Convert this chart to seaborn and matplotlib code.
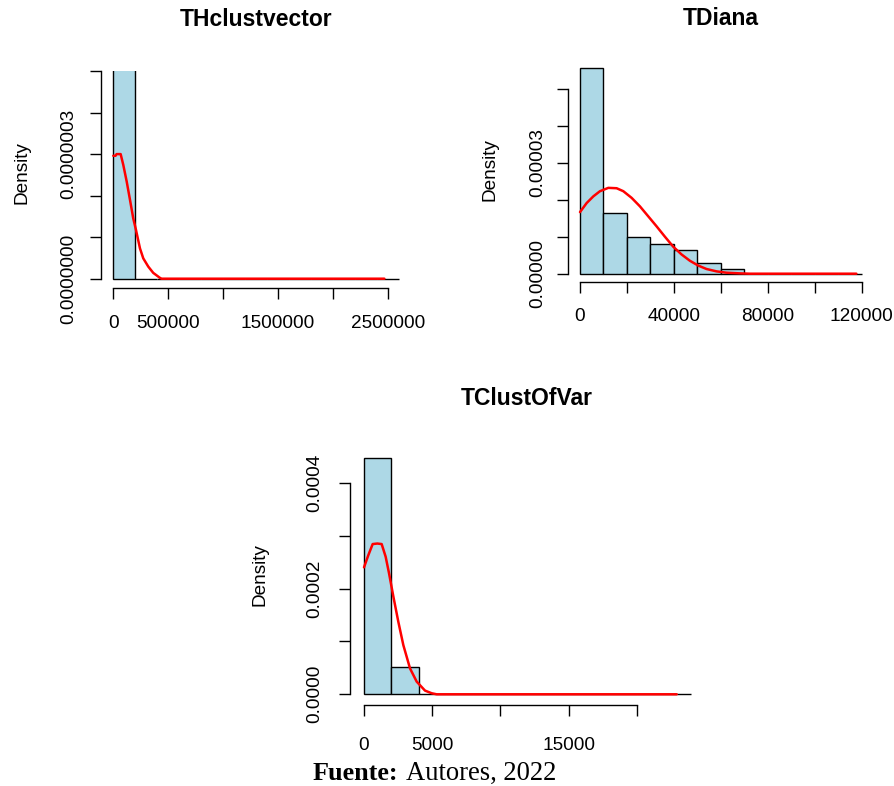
import numpy as np
import pandas as pd
import matplotlib
matplotlib.use("Agg")
import matplotlib.pyplot as plt
import seaborn as sns

W, H = 894, 786

# --- THclustvector ---
th_edges = [0, 200000, 400000, 600000, 800000, 1000000, 1200000, 1400000,
            1600000, 1800000, 2000000, 2200000, 2400000, 2600000]
th_dens = [5.0e-6, 0, 0, 0, 0, 0, 0, 0, 0, 0, 0, 0, 0]
th_cx = [0, 20000, 30000, 67000, 91000, 122000, 152000, 182000, 207000,
         243000, 273000, 319000, 364000, 425000, 440000, 2469700]
th_cy = [2.96e-7, 2.96e-7, 3.0e-7, 3.0e-7, 2.74e-7, 2.34e-7, 1.90e-7, 1.45e-7,
         1.17e-7, 0.73e-7, 0.49e-7, 0.29e-7, 0.14e-7, 0.02e-7, 0.0, 0.0]
th_xticks = [0, 500000, 1000000, 1500000, 2000000, 2500000]
th_xlabels = ["0", "500000", "", "1500000", "", "2500000"]
th_yticks = [0, 1e-7, 2e-7, 3e-7, 4e-7, 5e-7]
th_ylabels = ["0.0000000", "", "", "0.0000003", "", ""]

# --- TDiana ---
di_edges = [0, 10000, 20000, 30000, 40000, 50000, 60000, 70000, 80000,
            90000, 100000, 110000, 120000]
di_dens = [5.56e-5, 1.645e-5, 1.0e-5, 0.8e-5, 0.645e-5, 0.29e-5, 0.127e-5,
           0, 0, 0, 0, 0]
di_cx = [0, 2837, 5674, 8511, 12057, 15603, 18440, 21986, 25532, 29078,
         32624, 36170, 39716, 43262, 46809, 50355, 53901, 58156, 62411,
         68085, 72340, 117730]
di_cy = [1.665e-5, 1.91e-5, 2.09e-5, 2.23e-5, 2.32e-5, 2.31e-5, 2.23e-5,
         2.05e-5, 1.82e-5, 1.55e-5, 1.28e-5, 1.00e-5, 0.73e-5, 0.52e-5,
         0.35e-5, 0.22e-5, 0.127e-5, 0.063e-5, 0.027e-5, 0.009e-5, 0, 0]
di_xticks = [0, 20000, 40000, 60000, 80000, 100000, 120000]
di_xlabels = ["0", "", "40000", "", "80000", "", "120000"]
di_yticks = [0, 1e-5, 2e-5, 3e-5, 4e-5, 5e-5]
di_ylabels = ["0.00000", "", "", "0.00003", "", ""]

# --- TClustOfVar ---
cv_edges = [0, 2000, 4000, 6000, 8000, 10000, 12000, 14000, 16000, 18000,
            20000, 22000, 24000]
cv_dens = [4.46e-4, 0.51e-4, 0, 0, 0, 0, 0, 0, 0, 0, 0, 0]
cv_cx = [0, 318, 636, 978, 1296, 1589, 1834, 2152, 2518, 2885, 3374, 3863,
         4474, 4963, 5330, 22936]
cv_cy = [2.40e-4, 2.63e-4, 2.84e-4, 2.85e-4, 2.84e-4, 2.60e-4, 2.29e-4,
         1.85e-4, 1.37e-4, 0.93e-4, 0.49e-4, 0.24e-4, 0.07e-4, 0.02e-4, 0, 0]
cv_xticks = [0, 5000, 10000, 15000, 20000]
cv_xlabels = ["0", "5000", "", "15000", ""]
cv_yticks = [0, 1e-4, 2e-4, 3e-4, 4e-4]
cv_ylabels = ["0.0000", "", "0.0002", "", "0.0004"]

sns.set_style("ticks")
plt.rcParams["font.family"] = ["Liberation Sans", "DejaVu Sans"]
plt.rcParams["text.color"] = "black"
plt.rcParams["axes.labelcolor"] = "black"

fig = plt.figure(figsize=(W / 100, H / 100), dpi=100)
fig.patch.set_facecolor("white")

panels = [
    # pixel geometry: x0px, px per x unit, y0px, px per y unit, box (l, r, t, b)
    dict(title="THclustvector", edges=th_edges, dens=th_dens, cx=th_cx, cy=th_cy,
         xt=th_xticks, xl=th_xlabels, yt=th_yticks, yl=th_ylabels,
         x0=113.3, xs=274.4 / 2.5e6, y0=278.7, ys=41.53 / 1e-7,
         box=(101.0, 410.1, 71.0, 287.7), pad=(12.0, 9.1),
         tpos=(256, 26), dpos=(22, 173)),
    dict(title="TDiana", edges=di_edges, dens=di_dens, cx=di_cx, cy=di_cy,
         xt=di_xticks, xl=di_xlabels, yt=di_yticks, yl=di_ylabels,
         x0=580.0, xs=281.7 / 120000, y0=273.7, ys=37.0 / 1e-5,
         box=(568.3, 873.0, 66.0, 281.7), pad=(11.2, 8.2),
         tpos=(720.5, 25), dpos=(490, 170)),
    dict(title="TClustOfVar", edges=cv_edges, dens=cv_dens, cx=cv_cx, cy=cv_cy,
         xt=cv_xticks, xl=cv_xlabels, yt=cv_yticks, yl=cv_ylabels,
         x0=364.0, xs=272.7 / 20000, y0=694.3, ys=52.9 / 1e-4,
         box=(350.3, 704.3, 440.0, 705.0), pad=(14.8, 11.8),
         tpos=(527, 405), dpos=(260, 575)),
]

for p in panels:
    l, r, t, b = p["box"]
    ax = fig.add_axes([l / W, 1 - b / H, (r - l) / W, (b - t) / H])
    edges = [float(e) for e in p["edges"]]
    hist_df = pd.DataFrame({
        "x": [(a + c) / 2 for a, c in zip(edges[:-1], edges[1:])],
        "w": p["dens"],
    })
    sns.histplot(data=hist_df, x="x", weights="w", bins=edges, ax=ax,
                 color="#ADD8E6", edgecolor="black", linewidth=1.0, alpha=1)
    curve_df = pd.DataFrame({"x": p["cx"], "y": p["cy"]})
    sns.lineplot(data=curve_df, x="x", y="y", ax=ax, color="red",
                 linewidth=1.8, sort=False, zorder=5)
    ax.set_xlim((l - p["x0"]) / p["xs"], (r - p["x0"]) / p["xs"])
    ax.set_ylim((p["y0"] - b) / p["ys"], (p["y0"] - t) / p["ys"])
    ax.set_xlabel("")
    ax.set_ylabel("")
    ax.set_facecolor("white")
    sns.despine(ax=ax)
    ax.spines["left"].set_bounds(p["yt"][0], p["yt"][-1])
    ax.spines["bottom"].set_bounds(p["xt"][0], p["xt"][-1])
    for s in ("left", "bottom"):
        ax.spines[s].set_linewidth(1.0)
        ax.spines[s].set_color("black")
    ax.set_xticks(p["xt"])
    ax.set_xticklabels(p["xl"])
    ax.set_yticks(p["yt"])
    ax.set_yticklabels(p["yl"], rotation=90, va="center")
    ax.tick_params(axis="x", length=8, width=1.0, colors="black",
                   labelsize=13.7, pad=p["pad"][0], direction="out")
    ax.tick_params(axis="y", length=8, width=1.0, colors="black",
                   labelsize=13.7, pad=p["pad"][1], direction="out")
    ax.grid(False)
    fig.text(p["tpos"][0] / W, 1 - p["tpos"][1] / H, p["title"], color="black",
             ha="center", va="baseline", fontsize=16.5, fontweight="bold")
    fig.text(p["dpos"][0] / W, 1 - p["dpos"][1] / H, "Density", color="black",
             ha="center", va="center", rotation=90, fontsize=13.7)

fig.text(313 / W, 1 - 780 / H, "Fuente:", ha="left", va="baseline", color="black",
         fontsize=18.8, fontweight="bold", family=["Liberation Serif"])
fig.text(406 / W, 1 - 780 / H, "Autores, 2022", ha="left", va="baseline",
         color="black", fontsize=19.2, family=["Liberation Serif"])

fig.savefig("out.png", dpi=100, facecolor="white")
plt.close(fig)
